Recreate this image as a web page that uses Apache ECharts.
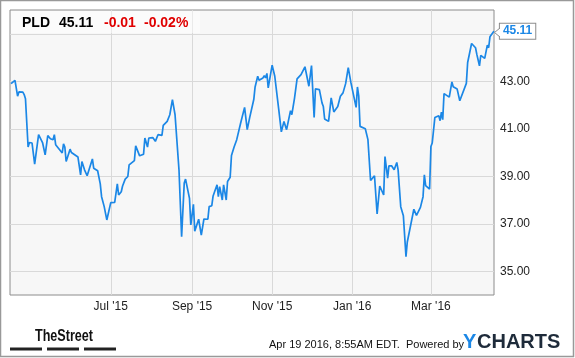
<!DOCTYPE html>
<html><head><meta charset="utf-8">
<script src="https://cdn.jsdelivr.net/npm/echarts@6/dist/echarts.min.js"></script>
<style>html,body{margin:0;padding:0;background:#fff}#c{width:575px;height:358px}</style>
</head><body><div id="c"></div>
<script>
const dates = [
'2015-04-16','2015-04-19','2015-04-21','2015-04-22','2015-04-25','2015-04-26','2015-04-27','2015-04-29','2015-04-30','2015-05-02',
'2015-05-04','2015-05-05','2015-05-07','2015-05-10','2015-05-12','2015-05-14','2015-05-16','2015-05-18','2015-05-19','2015-05-20',
'2015-05-25','2015-05-26','2015-05-27','2015-05-28','2015-05-31','2015-06-01','2015-06-02','2015-06-06','2015-06-08','2015-06-09',
'2015-06-11','2015-06-13','2015-06-17','2015-06-18','2015-06-21','2015-06-23','2015-06-24','2015-06-25','2015-06-26','2015-06-28',
'2015-06-29','2015-07-01','2015-07-04','2015-07-05','2015-07-06','2015-07-07','2015-07-09','2015-07-10','2015-07-12','2015-07-14',
'2015-07-15','2015-07-19','2015-07-20','2015-07-23','2015-07-26','2015-07-27','2015-07-29','2015-07-30','2015-08-02','2015-08-04',
'2015-08-06','2015-08-09','2015-08-10','2015-08-13','2015-08-15','2015-08-17','2015-08-19','2015-08-22','2015-08-24','2015-08-26',
'2015-08-27','2015-08-30','2015-08-31','2015-09-02','2015-09-03','2015-09-06','2015-09-07','2015-09-08','2015-09-10','2015-09-13',
'2015-09-14','2015-09-16','2015-09-17','2015-09-18','2015-09-20','2015-09-21','2015-09-22','2015-09-24','2015-09-25','2015-09-27',
'2015-09-28','2015-09-30','2015-10-01','2015-10-03','2015-10-05','2015-10-06','2015-10-08','2015-10-11','2015-10-13','2015-10-15',
'2015-10-18','2015-10-19','2015-10-20','2015-10-21','2015-10-22','2015-10-25','2015-10-26','2015-10-27','2015-10-28','2015-10-29',
'2015-11-01','2015-11-03','2015-11-04','2015-11-06','2015-11-08','2015-11-10','2015-11-12','2015-11-15','2015-11-16','2015-11-18',
'2015-11-19','2015-11-20','2015-11-23','2015-11-24','2015-11-26','2015-11-29','2015-12-01','2015-12-03','2015-12-04','2015-12-07',
'2015-12-09','2015-12-10','2015-12-11','2015-12-14','2015-12-16','2015-12-18','2015-12-21','2015-12-23','2015-12-25','2015-12-27',
'2015-12-29','2015-12-31','2016-01-04','2016-01-05','2016-01-06','2016-01-07','2016-01-08','2016-01-11','2016-01-13','2016-01-15',
'2016-01-18','2016-01-20','2016-01-22','2016-01-25','2016-01-26','2016-01-28','2016-01-29','2016-01-31','2016-02-02','2016-02-04',
'2016-02-05','2016-02-07','2016-02-09','2016-02-11','2016-02-12','2016-02-17','2016-02-19','2016-02-22','2016-02-24','2016-02-25',
'2016-02-26','2016-02-29','2016-03-01','2016-03-02','2016-03-04','2016-03-07','2016-03-08','2016-03-09','2016-03-10','2016-03-11',
'2016-03-15','2016-03-16','2016-03-17','2016-03-18','2016-03-21','2016-03-23','2016-03-28','2016-03-29','2016-03-30','2016-04-01',
'2016-04-04','2016-04-05','2016-04-07','2016-04-08','2016-04-11','2016-04-13','2016-04-14','2016-04-15','2016-04-18'
];
const prices = [
42.90,43.04,42.37,42.55,42.54,42.44,42.26,40.23,40.42,40.40,
39.51,39.55,40.75,40.42,39.90,40.71,40.58,40.54,40.75,40.33,
39.98,40.36,40.23,39.62,40.14,40.00,40.08,39.81,39.06,39.62,
39.27,39.02,39.73,39.34,39.23,38.68,38.14,38.21,37.72,37.16,
37.09,37.89,37.90,37.86,38.68,38.21,38.35,38.59,38.88,38.99,
39.48,39.66,40.28,39.86,39.93,40.61,40.23,40.61,40.63,40.47,
40.75,40.72,41.14,41.31,41.59,42.23,41.59,39.27,36.45,38.71,
38.88,38.07,36.95,37.82,36.69,37.19,37.25,36.52,37.20,37.19,
37.72,37.76,38.17,38.21,38.64,38.14,38.56,38.00,38.64,38.00,
38.78,38.96,39.87,40.23,40.54,40.61,41.24,41.90,40.96,41.50,
42.23,42.76,42.79,43.21,43.04,43.14,43.24,43.14,43.33,42.72,
43.68,43.21,43.14,41.83,40.87,41.31,40.96,41.76,41.59,42.27,
42.30,43.10,43.28,43.24,43.61,42.79,43.66,41.48,42.68,42.65,
42.09,41.94,41.41,41.31,42.30,41.71,41.94,42.37,42.51,42.90,
43.57,42.95,41.90,42.76,42.37,41.10,41.03,41.00,40.54,38.82,
39.02,37.41,38.59,38.21,39.83,38.92,39.44,39.44,39.27,39.58,
39.27,37.72,37.34,35.61,36.23,37.61,37.35,37.69,38.14,39.06,
38.61,38.46,40.25,40.40,41.47,41.55,41.34,41.70,41.38,42.48,
42.33,42.31,42.97,42.77,42.67,42.18,42.91,43.79,43.71,44.59,
44.41,44.13,43.65,44.09,43.96,44.52,44.41,44.87,45.11
];
const xTickDates = ['2015-07-01','2015-09-01','2015-11-01','2016-01-01','2016-03-01'];
const xTickLabels = ["Jul '15","Sep '15","Nov '15","Jan '16","Mar '16"];
const yGridValues = [35,37,39,41,43,45];
const yTickLabels = [35,37,39,41,43];
const ticker = 'PLD', lastPrice = '45.11', change = '-0.01', changePct = '-0.02%';
const xStart = '2015-04-15', xEnd = '2016-04-18';
const footerText = 'Apr 19 2016, 8:55AM EDT.  Powered by';

function ts(s){const p=s.split('-');return Date.UTC(+p[0],+p[1]-1,+p[2]);}
const xTickTs = xTickDates.map(ts);
const seriesData = dates.map((d,i)=>[ts(d), prices[i]]);
const FONT = '"Liberation Sans", Arial, sans-serif';
const BLUE = '#1b87e6';

const chart = echarts.init(document.getElementById('c'), null, {renderer:'canvas'});
chart.setOption({
  animation:false,
  backgroundColor:'#fff',
  grid:{left:10, top:10, right:81, bottom:63, show:true, backgroundColor:'#f7f7f7', borderColor:'#8c8c8c', borderWidth:1},
  xAxis:{
    type:'value', min:ts(xStart)+5*3600e3, max:ts(xEnd)+2*3600e3,
    axisLine:{show:false}, axisTick:{show:false, customValues:xTickTs},
    splitLine:{show:true, lineStyle:{color:'#d9d9d9', width:1}},
    axisLabel:{customValues:xTickTs, color:'#222', fontSize:12, fontFamily:FONT, margin:6,
      formatter:function(v){let k=xTickTs.findIndex(t=>Math.abs(t-v)<864e5);return k>=0?xTickLabels[k]:'';}}
  },
  yAxis:{
    type:'value', position:'right', min:34, max:46,
    axisLine:{show:false}, axisTick:{show:false, customValues:yGridValues},
    splitLine:{show:true, lineStyle:{color:'#d9d9d9', width:1}},
    axisLabel:{customValues:yTickLabels, color:'#222', fontSize:12, fontFamily:FONT, margin:6,
      formatter:function(v){return Number(v).toFixed(2);}}
  },
  series:[{
    type:'line', data:seriesData, showSymbol:false, symbol:'none',
    lineStyle:{color:BLUE, width:1.7}, z:3,
    endLabel:{show:true, formatter:function(){return lastPrice;}, color:BLUE, fontWeight:'bold', fontSize:12, fontFamily:FONT,
      backgroundColor:'#fff', borderColor:'#8c8c8c', borderWidth:1, padding:[2,3,1,3], distance:6}
  }],
  graphic:[
    {type:'rect', shape:{x:0.5,y:0.5,width:573,height:356}, style:{fill:'none', stroke:'#999', lineWidth:1.5}, z:100},
    {type:'rect', shape:{x:11,y:11,width:189,height:22}, style:{fill:'rgba(255,255,255,0.45)'}, z:50},
    {type:'text', x:22, y:23, style:{text:ticker, font:'bold 14px '+FONT, fill:'#000', verticalAlign:'middle'}, z:60},
    {type:'text', x:59, y:23, style:{text:lastPrice, font:'bold 14px '+FONT, fill:'#000', verticalAlign:'middle'}, z:60},
    {type:'text', x:104, y:23, style:{text:change, font:'bold 14px '+FONT, fill:'#e00000', verticalAlign:'middle'}, z:60},
    {type:'text', x:144, y:23, style:{text:changePct, font:'bold 14px '+FONT, fill:'#e00000', verticalAlign:'middle'}, z:60},
    {type:'polyline', shape:{points:[[500,28],[494.5,32.5],[500,37]]}, style:{stroke:'#8c8c8c', fill:'#fff', lineWidth:1}, z:60},
    {type:'text', x:35, y:336, scaleX:0.74, style:{text:'TheStreet', font:'bold 17px "Liberation Sans Narrow", "Liberation Sans", Arial, sans-serif', fill:'#111', verticalAlign:'middle'}, z:60},
    {type:'rect', shape:{x:10,y:347.5,width:32,height:3}, style:{fill:'#222'}},
    {type:'rect', shape:{x:47,y:347.5,width:32,height:3}, style:{fill:'#222'}},
    {type:'rect', shape:{x:84,y:347.5,width:32,height:3}, style:{fill:'#222'}},
    {type:'text', x:269, y:345, style:{text:footerText, font:'11px '+FONT, fill:'#111', verticalAlign:'middle'}},
    {type:'text', x:463, y:342, style:{text:'Y', font:'bold 20px '+FONT, fill:BLUE, verticalAlign:'middle'}},
    {type:'text', x:477, y:342, style:{text:'CHARTS', font:'bold 20px '+FONT, fill:'#1e2b3a', verticalAlign:'middle'}}
  ]
});
</script></body></html>
